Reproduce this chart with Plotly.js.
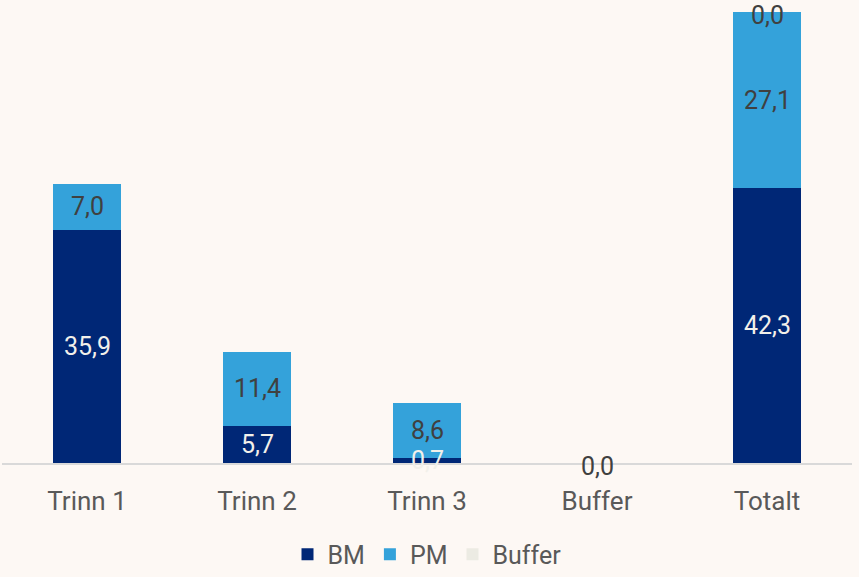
<!DOCTYPE html>
<html>
<head>
<meta charset="utf-8">
<script src="https://cdn.plot.ly/plotly-3.0.1.min.js"></script>
<style>html,body{margin:0;padding:0;background:#FDF8F4;}</style>
</head>
<body>
<div id="chart" style="width:859px;height:577px;"></div>
<script>
const categories = ["Trinn 1", "Trinn 2", "Trinn 3", "Buffer", "Totalt"];
const bmValues = [35.9, 5.7, 0.7, null, 42.3];
const pmValues = [7.0, 11.4, 8.6, null, 27.1];
const bufferValues = [null, null, null, 0.0, 0.0];

const fmt = v => v.toFixed(1).replace('.', ',');
const FONT = 'Roboto, "Noto Sans", sans-serif';

const series = [
  {name: 'BM', values: bmValues, color: '#002776', textColor: '#F2F0EA', shift: 0},
  {name: 'PM', values: pmValues, color: '#34A2DA', textColor: '#404040', shift: 0},
  {name: 'Buffer', values: bufferValues, color: '#ECEBE3', textColor: '#404040', shift: -3}
];

const traces = [];
const annotations = [];
const base = categories.map(() => 0);
series.forEach(s => {
  traces.push({
    type: 'bar', name: s.name, x: categories, y: s.values,
    marker: {color: s.color}, hoverinfo: 'skip'
  });
  s.values.forEach((v, i) => {
    if (v === null) return;
    annotations.push({
      x: categories[i], y: base[i] + v / 2, xref: 'x', yref: 'y',
      text: fmt(v), showarrow: false, xanchor: 'center', yanchor: 'middle',
      yshift: s.shift,
      font: {family: FONT, size: 25, color: s.textColor}
    });
    base[i] += v;
  });
});

const layout = {
  width: 859, height: 577,
  paper_bgcolor: '#FDF8F4', plot_bgcolor: '#FDF8F4',
  margin: {l: 2, r: 7, t: 12, b: 114, autoexpand: false},
  barmode: 'stack', bargap: 0.6,
  showlegend: true,
  annotations: annotations,
  legend: {orientation: 'h', x: 0.5, xanchor: 'center', y: -0.203, yanchor: 'middle',
    font: {family: FONT, size: 25, color: '#595959'}, itemwidth: 30, tracegroupgap: 0,
    traceorder: 'normal'},
  xaxis: {
    type: 'category', showgrid: false, zeroline: false,
    showline: true, linecolor: '#D9D9D9', linewidth: 2,
    ticks: '', ticklabelstandoff: 14,
    tickfont: {family: FONT, size: 26, color: '#595959'}
  },
  yaxis: {range: [0, 69.4], visible: false, showgrid: false, zeroline: false, fixedrange: true},
  font: {family: FONT}
};

Plotly.newPlot('chart', traces, layout, {displayModeBar: false, staticPlot: true});
</script>
</body>
</html>
